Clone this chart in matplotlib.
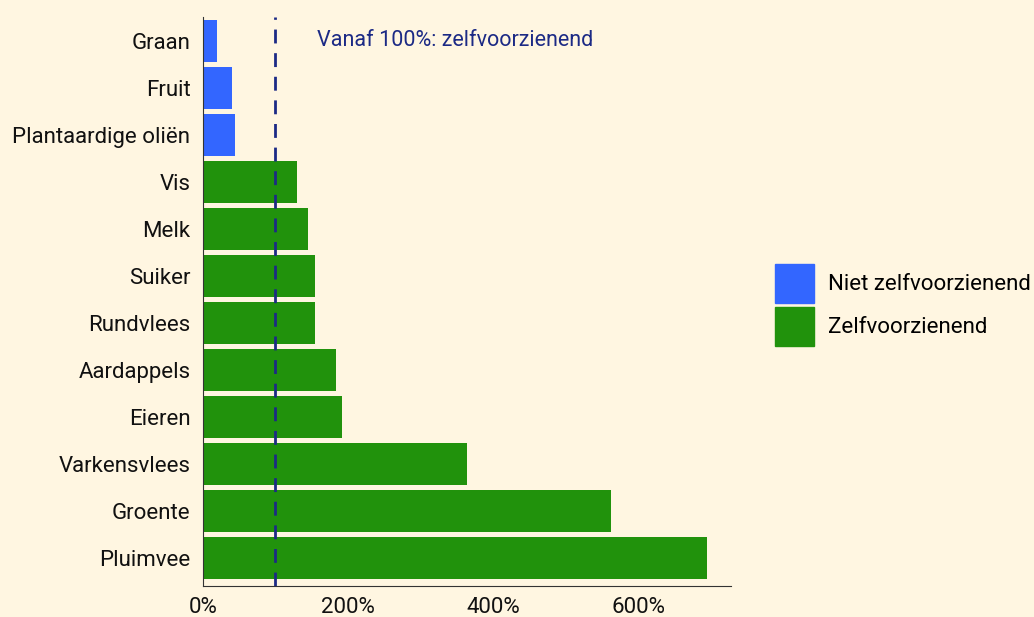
import matplotlib.pyplot as plt
from matplotlib.patches import Patch

plt.rcParams['font.family'] = ['Roboto', 'DejaVu Sans']

# Zelfvoorzieningsgraad per product (%)
products = ['Graan', 'Fruit', 'Plantaardige oliën', 'Vis', 'Melk', 'Suiker',
            'Rundvlees', 'Aardappels', 'Eieren', 'Varkensvlees', 'Groente', 'Pluimvee']
values = [19, 40, 44, 130, 145, 154, 154, 183, 192, 364, 563, 695]
x_ticks = [0, 200, 400, 600]

blue = '#3366ff'
green = '#21920c'
bg = '#fff6e1'
navy = '#1c2a85'

colors = [blue if v < 100 else green for v in values]

fig = plt.figure(figsize=(10.34, 6.17), dpi=100, facecolor=bg)
ax = fig.add_axes([203/1034, 1 - 586/617, (731-203)/1034, (586-17)/617])
ax.set_facecolor(bg)

ypos = list(range(len(products)))
ax.barh(ypos, values, height=0.9, color=colors)
ax.axvline(99.5, color=navy, linestyle=(0, (5, 3.5)), linewidth=2)
ax.text(157, 0, 'Vanaf 100%: zelfvoorzienend', color=navy, fontsize=15.5,
        va='center', ha='left')

ax.set_yticks(ypos)
ax.set_yticklabels(products, fontsize=16, color='#111111')
ax.set_xticks(x_ticks)
ax.set_xticklabels([f'{t}%' for t in x_ticks], fontsize=16, color='#111111')
ax.set_xlim(0, 728)
ax.set_ylim(11.6, -0.51)
ax.tick_params(axis='y', length=0, pad=9)
ax.tick_params(axis='x', length=0, pad=8)
for s in ['top', 'right']:
    ax.spines[s].set_visible(False)
for s in ['left', 'bottom']:
    ax.spines[s].set_color('#333333')

handles = [Patch(color=blue, label='Niet zelfvoorzienend'),
           Patch(color=green, label='Zelfvoorzienend')]
fig.legend(handles=handles, loc='center left', bbox_to_anchor=(766/1034, 1 - 305/617),
           frameon=False, fontsize=16, handlelength=1.76, handleheight=2.32,
           handletextpad=0.63, labelspacing=0.18, borderaxespad=0)

fig.savefig('out.png', dpi=100, facecolor=bg)
